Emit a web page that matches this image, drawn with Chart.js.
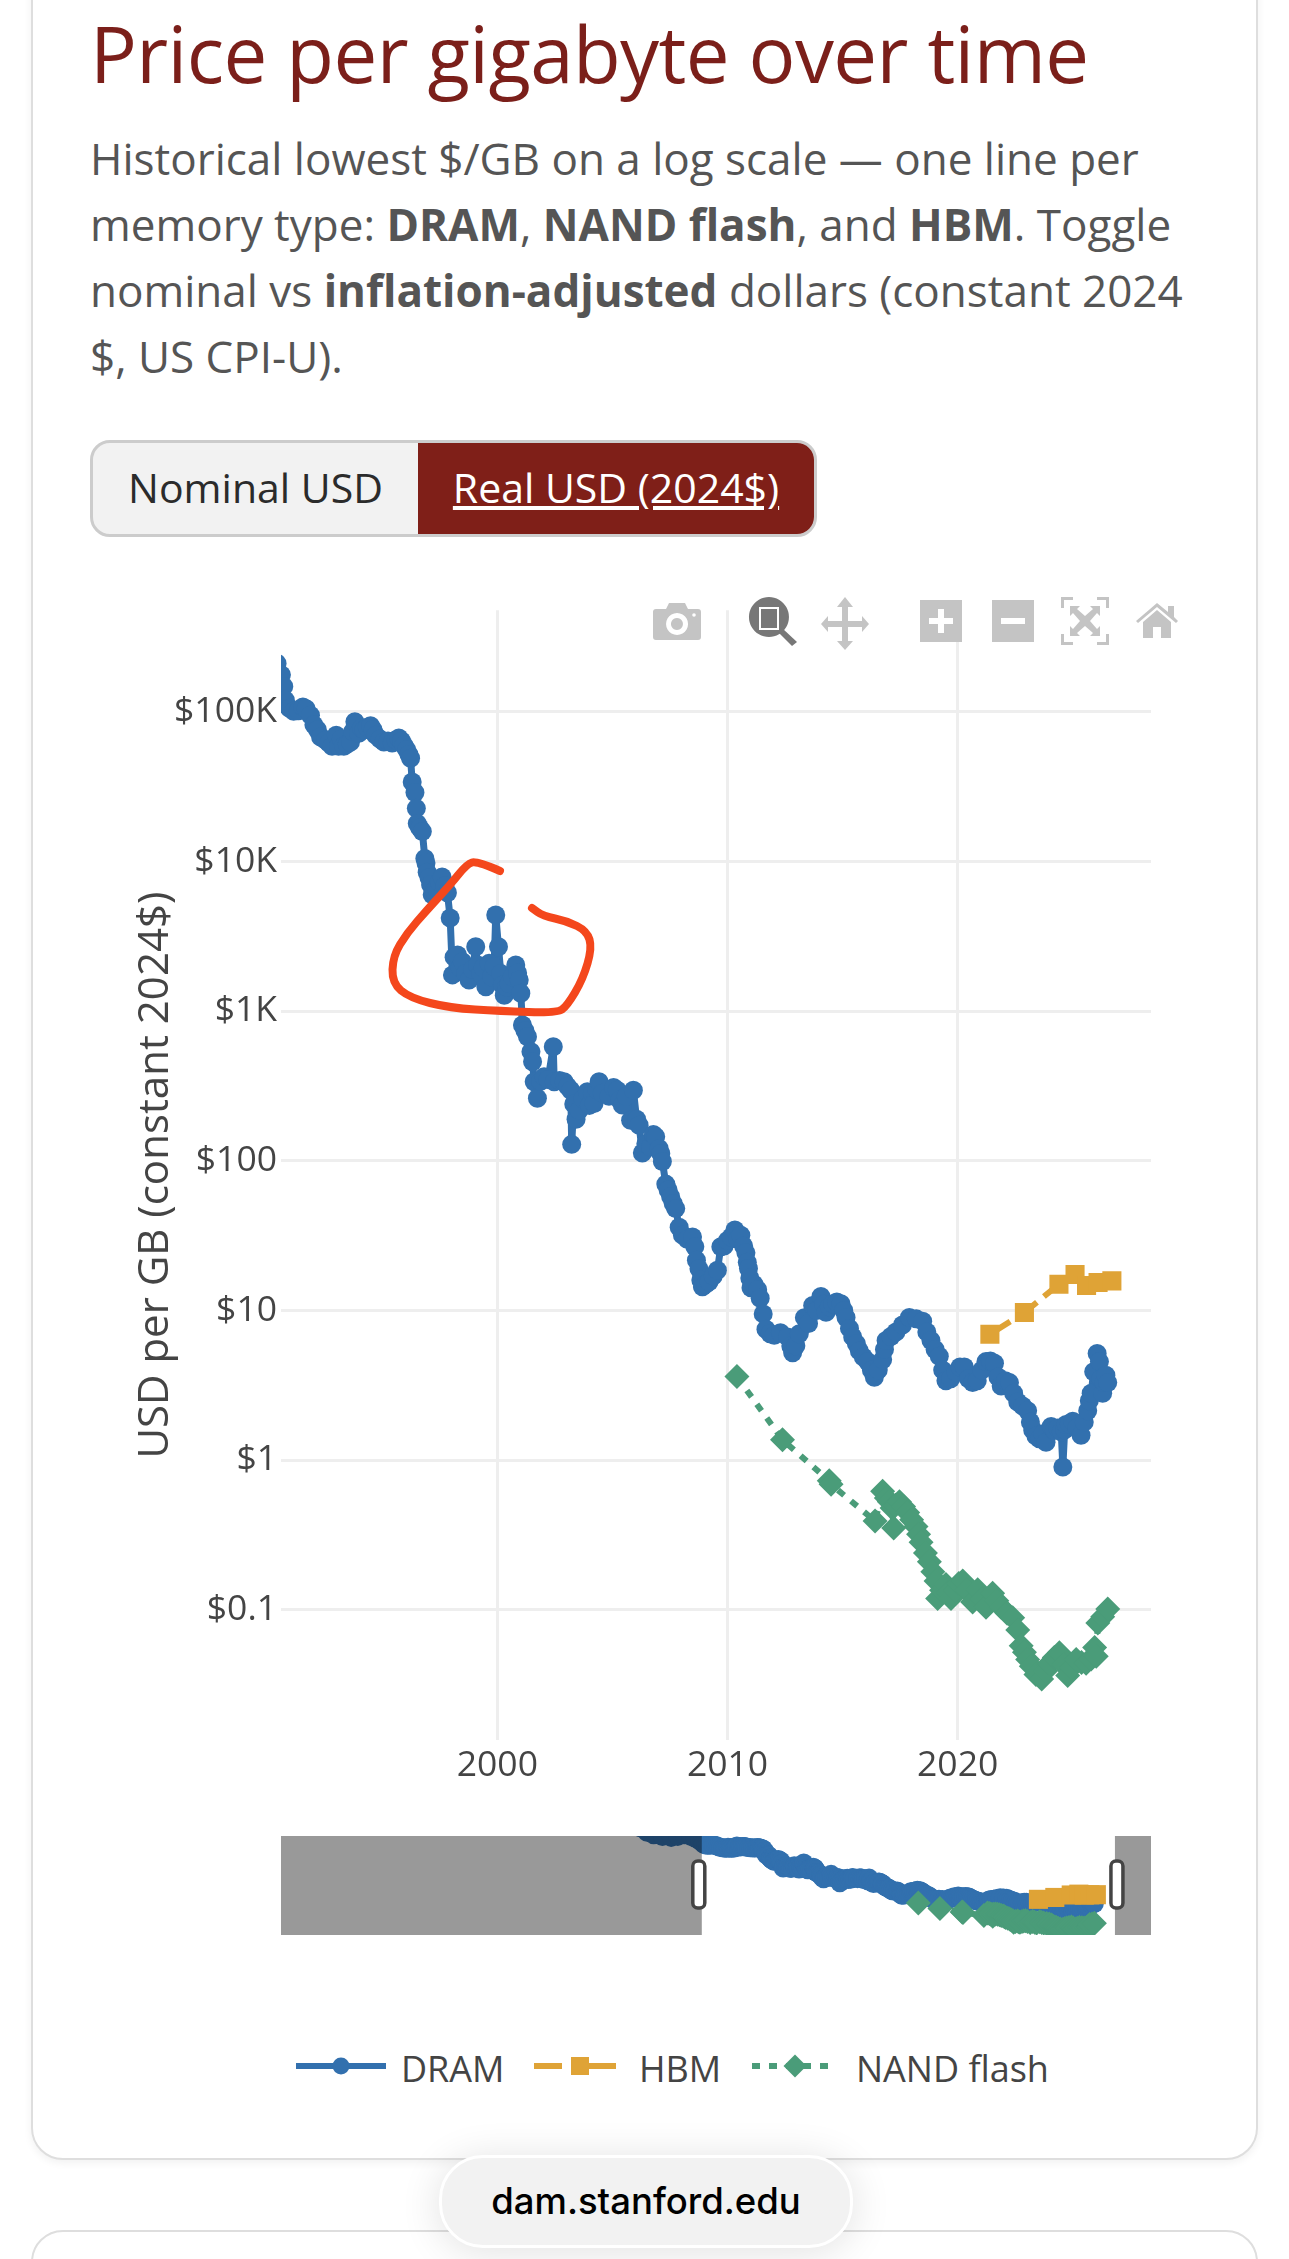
<!DOCTYPE html>
<html>
<head>
<meta charset="utf-8">
<title>Price per gigabyte over time</title>
<script src="https://cdn.jsdelivr.net/npm/chart.js@4"></script>
<style>
  html, body { margin: 0; padding: 0; background: #fff; }
  body { position: relative; width: 1289px; height: 2259px; overflow: hidden; font-family: "Open Sans", sans-serif; }
  .card { position: absolute; left: 31px; width: 1227px; box-sizing: border-box; background: #fff; border: 2px solid #dedede; border-radius: 32px; }
  #card1 { top: -60px; height: 2220px; box-shadow: 0 3px 8px rgba(0,0,0,.06); }
  #card2 { top: 2230px; height: 200px; }
  h1 { position: absolute; left: 90px; top: 0; margin: 0; font-size: 78px; line-height: 106px; font-weight: 400; letter-spacing: -0.6px; color: #7b1f1a; white-space: nowrap; }
  #intro { position: absolute; left: 90px; top: 125px; margin: 0; font-size: 44px; line-height: 66px; color: #555; white-space: nowrap; }
  #toggle { position: absolute; left: 90px; top: 440px; width: 727px; height: 97px; box-sizing: border-box; border: 3px solid #ccc; border-radius: 20px; overflow: hidden; background: #f2f2f2; font-size: 41px; }
  #toggle span { position: absolute; top: 0; height: 91px; line-height: 89px; text-align: center; }
  #btnNominal { left: 0; width: 325px; color: #2b2b2b; }
  #btnReal { left: 325px; width: 396px; background: #7f1f18; color: #fff; text-decoration: underline; }
  canvas { position: absolute; left: 0; }
  #priceChart { top: 585px; }
  #sliderChart { top: 1826px; }
  #modebar, #scribble { position: absolute; left: 0; top: 0; pointer-events: none; }
  .legend-item { position: absolute; top: 2043px; height: 52px; line-height: 52px; font-size: 36px; color: #444; white-space: nowrap; }
  .legend-item svg { position: absolute; top: -3px; left: 0; }
  #pill { position: absolute; left: 439px; top: 2155px; width: 414px; height: 93px; box-sizing: border-box; border: 3px solid #fff; border-radius: 44px; background: #f2f2f2; box-shadow: 0 4px 40px rgba(0,0,0,.12); font-family: Inter, sans-serif; font-size: 36.5px; font-weight: 500; line-height: 87px; text-align: center; color: #000; }
</style>
</head>
<body>
<div class="card" id="card1"></div>
<div class="card" id="card2"></div>

<h1>Price per gigabyte over time</h1>
<p id="intro">Historical lowest $/GB on a log scale — one line per<br>memory type: <b>DRAM</b>, <b>NAND flash</b>, and <b>HBM</b>. Toggle<br>nominal vs <b>inflation-adjusted</b> dollars (constant 2024<br>$, US CPI-U).</p>

<div id="toggle"><span id="btnNominal">Nominal USD</span><span id="btnReal">Real USD (2024$)</span></div>

<canvas id="priceChart" width="1289" height="1215"></canvas>
<canvas id="sliderChart" width="1289" height="120"></canvas>

<svg id="modebar" width="1289" height="700">
  <g fill="#c4c4c4">
    <!-- camera -->
    <path fill-rule="evenodd" d="M656 609h10l3-6h16l3 6h10q3 0 3 3v25q0 3-3 3h-42q-3 0-3-3v-25q0-3 3-3zM677 613a11 11 0 1 0 .1 0zM677 618a6 6 0 1 1-.1 0z"/>
    <circle cx="694" cy="615" r="1.8" fill="#fff"/>
    <!-- pan -->
    <path d="M845 597l8 10h-5v14h14v-5l7 8-7 8v-5h-14v14h5l-8 9-8-9h5v-14h-14v5l-7-8 7-8v5h14v-14h-5z"/>
    <!-- zoom in / out -->
    <path fill-rule="evenodd" d="M920 600h42v42h-42zM938 609v9h-9v6h9v9h6v-9h9v-6h-9v-9z"/>
    <path fill-rule="evenodd" d="M992 600h42v42h-42zM1001 618v6h24v-6z"/>
    <!-- autoscale -->
    <path d="M1061 597h12v3h-9v8h-3zM1097 597h12v11h-3v-8h-9zM1061 634h3v8h9v3h-12zM1106 634h3v11h-12v-3h9z"/>
    <path d="M1070 606h10l-3 3 8 7 8-7-3-3h10v10l-3-3-7 8 7 8 3-3v10h-10l3-3-8-7-8 7 3 3h-10v-10l3 3 7-8-7-8-3 3z"/>
    <!-- home -->
    <path d="M1157 603l11 9v-6h6v11l4 4-2 2-19-16-19 16-2-2zM1143 622l14-12 14 12v16h-10v-11h-8v11h-10z"/>
  </g>
  <!-- zoom, active -->
  <g fill="#777">
    <path fill-rule="evenodd" d="M769 597a20 20 0 1 1-.1 0zM759 607v23h20v-23z"/>
    <rect x="761" y="609" width="16" height="19"/>
    <path d="M782 628l15 14-5 4-14-14z"/>
  </g>
</svg>

<div class="legend-item" id="legend0" style="left:296px;padding-left:105px"></div>
<div class="legend-item" id="legend1" style="left:534px;padding-left:105px"></div>
<div class="legend-item" id="legend2" style="left:752px;padding-left:104px"></div>

<svg id="scribble" width="1289" height="1200"><path id="scribblePath" fill="none" stroke="#f4471c" stroke-width="8" stroke-linecap="round" stroke-linejoin="round"/></svg>

<div id="pill">dam.stanford.edu</div>

<script>
Chart.defaults.font.family = '"Open Sans", sans-serif';
Chart.defaults.animation = false;

// ─── Data ─────────────────────────────────────────────────────────────────────
const seriesNames  = ['DRAM', 'HBM', 'NAND flash'];
const seriesColors = ['#3270ae', '#dfa336', '#4a9c79'];

const dramYears = [
  1985.0, 1985.6, 1986.2, 1987.0, 1987.8, 1988.4, 1989.0, 1989.6, 1990.0, 1990.43, 1990.62, 1990.72,
  1990.79, 1990.97, 1991.15, 1991.35, 1991.55, 1991.69, 1991.88, 1992.03, 1992.18, 1992.32, 1992.53, 1992.68,
  1992.82, 1993.0, 1993.1, 1993.22, 1993.33, 1993.48, 1993.62, 1993.72, 1993.81, 1993.98, 1994.1, 1994.2,
  1994.35, 1994.49, 1994.6, 1994.71, 1994.9, 1995.07, 1995.25, 1995.43, 1995.6, 1995.72, 1995.84, 1995.94,
  1996.06, 1996.16, 1996.23, 1996.3, 1996.42, 1996.48, 1996.52, 1996.63, 1996.74, 1996.85, 1996.9, 1996.95,
  1997.03, 1997.1, 1997.17, 1997.26, 1997.35, 1997.48, 1997.6, 1997.72, 1997.83, 1997.95, 1998.05, 1998.12,
  1998.27, 1998.38, 1998.48, 1998.62, 1998.77, 1998.92, 1999.06, 1999.14, 1999.28, 1999.38, 1999.5, 1999.64,
  1999.75, 1999.86, 1999.93, 2000.05, 2000.15, 2000.22, 2000.3, 2000.41, 2000.51, 2000.65, 2000.8, 2000.88,
  2000.95, 2001.02, 2001.09, 2001.2, 2001.31, 2001.46, 2001.53, 2001.6, 2001.74, 2001.88, 2002.03, 2002.2,
  2002.43, 2002.47, 2002.7, 2002.9, 2003.05, 2003.19, 2003.23, 2003.32, 2003.42, 2003.55, 2003.72, 2003.91,
  2004.0, 2004.13, 2004.2, 2004.32, 2004.42, 2004.56, 2004.85, 2005.05, 2005.21, 2005.32, 2005.43, 2005.6,
  2005.79, 2005.91, 2006.05, 2006.16, 2006.3, 2006.45, 2006.66, 2006.78, 2006.88, 2007.03, 2007.1, 2007.17,
  2007.32, 2007.42, 2007.53, 2007.64, 2007.75, 2007.9, 2008.04, 2008.25, 2008.48, 2008.58, 2008.65, 2008.76,
  2008.84, 2008.91, 2009.05, 2009.2, 2009.38, 2009.56, 2009.71, 2009.85, 2010.0, 2010.16, 2010.32, 2010.45,
  2010.58, 2010.7, 2010.8, 2010.86, 2010.91, 2010.97, 2011.02, 2011.15, 2011.31, 2011.42, 2011.55, 2011.67,
  2011.85, 2012.03, 2012.3, 2012.61, 2012.75, 2012.83, 2012.97, 2013.12, 2013.34, 2013.52, 2013.7, 2013.88,
  2014.06, 2014.18, 2014.28, 2014.42, 2014.57, 2014.75, 2014.93, 2015.05, 2015.15, 2015.3, 2015.44, 2015.6,
  2015.73, 2015.9, 2016.09, 2016.25, 2016.38, 2016.55, 2016.74, 2016.82, 2016.89, 2017.1, 2017.32, 2017.6,
  2017.9, 2018.2, 2018.48, 2018.66, 2018.84, 2019.02, 2019.2, 2019.35, 2019.49, 2019.7, 2019.93, 2020.1,
  2020.29, 2020.47, 2020.65, 2020.85, 2021.05, 2021.23, 2021.42, 2021.6, 2021.75, 2021.89, 2022.07, 2022.25,
  2022.43, 2022.61, 2022.82, 2023.04, 2023.16, 2023.26, 2023.4, 2023.55, 2023.7, 2023.84, 2024.06, 2024.2,
  2024.35, 2024.5, 2024.57, 2024.65, 2024.71, 2024.85, 2025.0, 2025.18, 2025.36, 2025.5, 2025.65, 2025.72,
  2025.8, 2025.91, 2026.06, 2026.16, 2026.22, 2026.3, 2026.36, 2026.44, 2026.52
];
const dramUsd = [
  2200000, 1000000, 630000, 470000, 400000, 480000, 630000, 480000, 350000, 211000, 177000, 148000,
  120000, 106000, 101000, 102000, 108000, 105000, 95000, 82000, 76000, 68000, 65000, 62000,
  59000, 70000, 59000, 66000, 59000, 61000, 63000, 74000, 86000, 72000, 78000, 76000,
  79000, 81000, 76000, 70000, 66000, 63000, 64000, 62000, 65000, 67000, 64000, 60000,
  56000, 52000, 49000, 34000, 29000, 22700, 18000, 16800, 15900, 10500, 9800, 8500,
  7800, 7000, 6000, 6400, 6600, 7300, 7900, 6900, 6200, 4200, 1750, 2300,
  2380, 1950, 2140, 1780, 1620, 1900, 2700, 2040, 1790, 1950, 1460, 2090,
  1700, 1990, 4400, 2700, 1790, 1500, 1280, 1450, 1530, 1700, 2040, 1800,
  1620, 1320, 810, 740, 676, 536, 460, 338, 262, 340, 365, 350,
  579, 338, 345, 338, 315, 297, 129, 240, 190, 218, 260, 290,
  235, 283, 242, 300, 338, 283, 270, 310, 297, 255, 236, 270,
  187, 297, 190, 173, 113, 130, 124, 150, 145, 121, 112, 99,
  70, 64, 57.6, 52, 48, 36, 32, 30, 31, 26.7, 21.7, 19,
  16, 14.4, 15, 15.6, 17, 18.6, 26.7, 27, 29.4, 31, 34.6, 30,
  31.9, 27, 24.3, 21, 19.1, 16.5, 14.2, 15, 13.8, 12.1, 9.5, 7.5,
  7, 6.84, 7.1, 6.67, 5.8, 5.22, 5.82, 7, 8.97, 8.2, 10.8, 10,
  12.4, 11, 9.73, 10.6, 11.1, 11.4, 11.1, 10, 9, 7.6, 6.67, 6,
  5.37, 4.9, 4.56, 4, 3.58, 4, 4.69, 5.5, 6.3, 6.7, 7.2, 8,
  9, 8.8, 8.5, 7.2, 6.3, 5.5, 4.95, 4, 3.4, 3.5, 3.88, 4.2,
  4.2, 3.5, 3.3, 3.4, 4, 4.56, 4.6, 4.45, 3.6, 3.13, 3.4, 3.3,
  2.8, 2.45, 2.3, 2.14, 1.8, 1.59, 1.45, 1.39, 1.5, 1.32, 1.68, 1.58,
  1.64, 1.55, 0.9, 1.6, 1.73, 1.75, 1.82, 1.65, 1.47, 1.8, 2.14, 2.5,
  2.8, 3.9, 5.17, 4.56, 3.5, 2.8, 3.3, 3.7, 3.3
];

const hbmYears = [2021.4, 2022.9, 2024.4, 2025.1, 2025.6, 2026.1, 2026.7];
const hbmUsd   = [6.95, 9.7, 15, 17.4, 14.7, 15.4, 15.8];

const nandYears = [
  2010.41, 2012.39, 2014.42, 2014.5, 2016.41, 2016.74, 2016.9, 2017.03, 2017.15, 2017.22, 2017.3, 2017.47,
  2017.65, 2017.83, 2018.0, 2018.19, 2018.3, 2018.41, 2018.6, 2018.77, 2018.92, 2019.06, 2019.13, 2019.3,
  2019.49, 2019.6, 2019.71, 2019.9, 2020.05, 2020.22, 2020.4, 2020.65, 2020.87, 2021.05, 2021.23, 2021.52,
  2021.7, 2021.89, 2022.15, 2022.39, 2022.61, 2022.76, 2022.9, 2023.04, 2023.2, 2023.4, 2023.65, 2023.82,
  2023.99, 2024.2, 2024.42, 2024.6, 2024.78, 2024.95, 2025.15, 2025.38, 2025.58, 2025.8, 2025.95, 2026.02,
  2026.09, 2026.3, 2026.52
];
const nandUsd = [
  3.62, 1.37, 0.728, 0.69, 0.392, 0.62, 0.56, 0.527, 0.48, 0.352, 0.5, 0.527,
  0.49, 0.448, 0.4, 0.361, 0.32, 0.283, 0.24, 0.21, 0.18, 0.156, 0.119, 0.135,
  0.148, 0.13, 0.119, 0.135, 0.15, 0.156, 0.135, 0.113, 0.136, 0.118, 0.104, 0.129,
  0.115, 0.104, 0.095, 0.0887, 0.0734, 0.0575, 0.052, 0.0465, 0.042, 0.037, 0.0345, 0.039,
  0.044, 0.048, 0.0516, 0.043, 0.0364, 0.041, 0.0465, 0.0445, 0.044, 0.047, 0.056, 0.049,
  0.0818, 0.09, 0.1014
];

const yTickValues = [0.1, 1, 10, 100, 1000, 10000, 100000];
const yTickLabels = ['$0.1', '$1', '$10', '$100', '$1K', '$10K', '$100K'];
const xTickValues = [2000, 2010, 2020];
const yAxisTitle  = 'USD per GB (constant 2024$)';

// axis ranges of the plot and of the range slider under it
const xRange = [1990.6, 2028.4];
const sliderRange = [1952.1, 2031.7];
const yRange = [0.0135, 478000];
const sliderYRange = [0.0126, 513000];

// red pen mark on top of the screenshot
const scribble = [
  [500,871],[477,861],[467,864],[450,885],[427,910],[407,933],[393,956],[392,983],[410,998],[450,1008],
  [500,1011],[557,1013],[567,1006],[583,979],[592,948],[587,931],[567,921],[543,916],[532,908]
];

function _toPoints(xs, ys) { return xs.map((x, i) => ({ x, y: ys[i] })); }

function _datasets() {
  return [
    {
      label: seriesNames[0], data: _toPoints(dramYears, dramUsd), order: 3,
      borderColor: seriesColors[0], backgroundColor: seriesColors[0], borderWidth: 7, borderJoinStyle: 'round',
      pointStyle: 'circle', pointRadius: 9.5, pointBorderWidth: 0, tension: 0, clip: 0,
    },
    {
      label: seriesNames[1], data: _toPoints(hbmYears, hbmUsd), order: 2,
      borderColor: seriesColors[1], backgroundColor: seriesColors[1], borderWidth: 6, borderDash: [24, 9], borderJoinStyle: 'round',
      pointStyle: 'rect', pointRadius: 13.5, pointBorderWidth: 0, tension: 0, clip: 0,
    },
    {
      label: seriesNames[2], data: _toPoints(nandYears, nandUsd), order: 1,
      borderColor: seriesColors[2], backgroundColor: seriesColors[2], borderWidth: 6, borderDash: [8, 9], borderJoinStyle: 'round',
      pointStyle: 'rectRot', pointRadius: 12.5, pointBorderWidth: 0, tension: 0, clip: 0,
    },
  ];
}

// ─── Main plot ────────────────────────────────────────────────────────────────
new Chart(document.getElementById('priceChart'), {
  type: 'line',
  data: { datasets: _datasets() },
  options: {
    responsive: false,
    layout: { autoPadding: false, padding: { left: 0, right: 138, top: 10, bottom: 0 } },
    plugins: { legend: { display: false }, tooltip: { enabled: false } },
    scales: {
      x: {
        type: 'linear', min: xRange[0], max: xRange[1],
        afterBuildTicks: s => { s.ticks = xTickValues.map(value => ({ value })); },
        afterFit: s => { s.height = 60; },
        grid: { color: '#eeeeee', lineWidth: 3, drawTicks: false },
        border: { display: false },
        ticks: { font: { size: 35.5 }, color: '#444', padding: 5, maxRotation: 0, autoSkip: false, callback: v => String(v) },
      },
      y: {
        type: 'logarithmic', min: yRange[0], max: yRange[1],
        afterBuildTicks: s => { s.ticks = yTickValues.map(value => ({ value })); },
        afterFit: s => { s.width = 281; },
        grid: { color: '#eeeeee', lineWidth: 3, drawTicks: false },
        border: { display: false },
        ticks: { font: { size: 35.5 }, color: '#444', padding: 4, autoSkip: false, callback: v => yTickLabels[yTickValues.indexOf(v)] },
        title: { display: true, text: yAxisTitle, font: { size: 42 }, color: '#444', padding: { top: 131, bottom: 0 } },
      },
    },
  },
});

// ─── Range slider ─────────────────────────────────────────────────────────────
const sliderMask = {
  id: 'sliderMask',
  afterDatasetsDraw(chart) {
    const { ctx, chartArea: a, scales: { x } } = chart;
    const x0 = x.getPixelForValue(xRange[0]);
    const x1 = x.getPixelForValue(xRange[1]);
    ctx.save();
    ctx.fillStyle = 'rgba(0,0,0,0.4)';
    ctx.fillRect(a.left, a.top, x0 - a.left, a.height);
    ctx.fillRect(x1, a.top, a.right - x1, a.height);
    [x0 - 3, x1 + 2].forEach(cx => {
      ctx.beginPath();
      ctx.roundRect(cx - 6, a.top + 25, 12, 47, 5);
      ctx.fillStyle = '#fff';
      ctx.fill();
      ctx.lineWidth = 3.5;
      ctx.strokeStyle = '#444';
      ctx.stroke();
    });
    ctx.restore();
  },
};

new Chart(document.getElementById('sliderChart'), {
  type: 'line',
  data: { datasets: _datasets() },
  plugins: [sliderMask],
  options: {
    responsive: false,
    layout: { autoPadding: false, padding: { left: 281, right: 138, top: 10, bottom: 11 } },
    plugins: { legend: { display: false }, tooltip: { enabled: false } },
    scales: {
      x: { type: 'linear', display: false, min: sliderRange[0], max: sliderRange[1] },
      y: { type: 'logarithmic', display: false, min: sliderYRange[0], max: sliderYRange[1] },
    },
  },
});

// ─── Legend ───────────────────────────────────────────────────────────────────
const _glyphs = [
  c => `<path d="M0 26H90" stroke="${c}" stroke-width="6"/><circle cx="45" cy="26" r="8.5" fill="${c}"/>`,
  c => `<path d="M0 26H82" stroke="${c}" stroke-width="6" stroke-dasharray="28 12 42"/><rect x="37" y="17" width="18" height="18" fill="${c}"/>`,
  c => `<path d="M0 26H82" stroke="${c}" stroke-width="6" stroke-dasharray="8 9"/><path d="M43 14.5L54.5 26L43 37.5L31.5 26Z" fill="${c}"/>`,
];
seriesNames.forEach((name, i) => {
  const el = document.getElementById('legend' + i);
  el.innerHTML = `<svg width="92" height="52">${_glyphs[i](seriesColors[i])}</svg>${name}`;
});

// ─── Pen mark, smoothed through the midpoints ─────────────────────────────────
let d = `M${scribble[0][0]} ${scribble[0][1]}`;
for (let i = 1; i < scribble.length - 1; i++) {
  const mx = (scribble[i][0] + scribble[i + 1][0]) / 2;
  const my = (scribble[i][1] + scribble[i + 1][1]) / 2;
  d += ` Q${scribble[i][0]} ${scribble[i][1]} ${mx} ${my}`;
}
d += ` L${scribble[scribble.length - 1][0]} ${scribble[scribble.length - 1][1]}`;
document.getElementById('scribblePath').setAttribute('d', d);
</script>
</body>
</html>
